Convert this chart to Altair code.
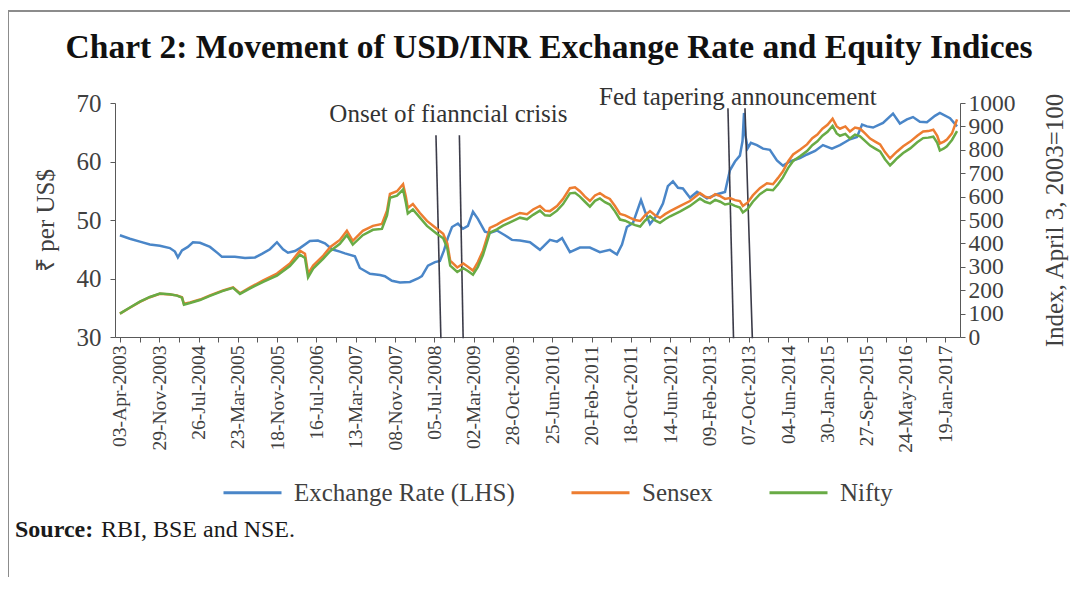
import json
import altair as alt
import pandas as pd

FONT = "Liberation Serif"

series_names = ["Exchange Rate (LHS)", "Sensex", "Nifty"]
series_colors = ["#4a86c8", "#ed7d31", "#68ab45"]

# Exchange rate (Rs per US$), LHS
fx_dates = [
    "2003-04-03", "2003-06-03", "2003-08-03", "2003-10-03", "2003-12-03",
    "2004-02-02", "2004-03-04", "2004-03-22", "2004-04-16", "2004-05-22", "2004-06-22", "2004-08-04", "2004-10-04", "2004-11-22", "2004-12-16",
    "2005-03-05", "2005-05-06", "2005-07-06", "2005-08-17", "2005-10-05", "2005-11-17", "2005-12-24",
    "2006-01-23", "2006-03-07", "2006-04-06", "2006-06-06", "2006-07-25", "2006-09-06", "2006-10-19", "2006-12-06",
    "2007-01-06", "2007-03-08", "2007-04-07", "2007-06-08", "2007-08-08", "2007-09-07", "2007-10-20", "2007-12-08",
    "2008-02-07", "2008-03-27", "2008-04-20", "2008-05-27", "2008-07-09", "2008-08-08", "2008-09-02", "2008-09-26", "2008-10-21", "2008-11-26", "2008-12-27",
    "2009-01-26", "2009-02-26", "2009-03-28", "2009-05-10", "2009-06-09", "2009-07-22", "2009-09-09", "2009-10-22", "2009-12-10",
    "2010-02-09", "2010-04-11", "2010-06-11", "2010-07-24", "2010-08-24", "2010-10-11", "2010-12-11",
    "2011-02-10", "2011-04-12", "2011-06-12", "2011-07-25", "2011-08-25", "2011-09-24", "2011-10-31", "2011-12-19",
    "2012-01-12", "2012-02-12", "2012-03-25", "2012-05-01", "2012-05-31", "2012-07-01", "2012-08-01", "2012-08-31", "2012-10-13", "2012-11-25",
    "2013-01-25", "2013-03-27", "2013-05-15", "2013-06-14", "2013-07-15", "2013-08-14", "2013-08-30", "2013-09-08", "2013-09-16", "2013-10-01", "2013-10-20", "2013-11-26",
    "2014-01-02", "2014-02-13", "2014-03-28", "2014-05-04", "2014-06-16", "2014-08-16", "2014-09-28", "2014-11-16",
    "2015-01-03", "2015-02-27", "2015-04-17", "2015-06-17", "2015-07-30", "2015-08-30", "2015-09-29", "2015-11-05",
    "2016-01-05", "2016-03-06", "2016-04-17", "2016-05-30", "2016-07-06", "2016-08-17", "2016-09-29", "2016-11-17", "2016-12-17",
    "2017-02-17", "2017-04-01",
]
fx_values = [
    47.4, 46.8, 46.3, 45.8, 45.6,
    45.2, 44.6, 43.6, 44.8, 45.4, 46.2, 46.1, 45.4, 44.3, 43.7,
    43.7, 43.5, 43.6, 44.2, 45.0, 46.2, 45.0,
    44.4, 44.7, 45.2, 46.4, 46.5, 46.0, 45.0, 44.6,
    44.3, 43.8, 41.8, 40.8, 40.6, 40.4, 39.6, 39.3,
    39.4, 40.0, 40.4, 42.2, 42.8, 43.0, 44.8, 47.0, 48.8, 49.4, 48.5,
    49.0, 51.4, 50.2, 48.0, 47.8, 48.2, 47.4, 46.6, 46.5,
    46.2, 44.9, 46.6, 46.3, 46.9, 44.5, 45.3,
    45.3, 44.5, 44.9, 44.1, 45.8, 48.8, 49.5, 53.4,
    51.5, 49.3, 50.8, 52.8, 55.8, 56.6, 55.5, 55.4, 53.8, 54.8,
    53.7, 54.4, 54.8, 58.5, 60.0, 61.0, 63.5, 68.3, 64.5, 62.3, 63.2, 62.8,
    62.2, 62.0, 60.2, 59.3, 60.0, 60.6, 61.2, 61.8,
    62.8, 62.2, 62.8, 63.8, 64.2, 66.3, 66.0, 65.8,
    66.6, 68.2, 66.5, 67.2, 67.6, 66.8, 66.7, 67.8, 68.3,
    67.4, 66.0,
]

# Equity indices (April 3, 2003 = 100), RHS
eq_dates = [
    "2003-04-03", "2003-06-03", "2003-08-03", "2003-10-03", "2003-12-03",
    "2004-02-02", "2004-03-16", "2004-04-16", "2004-04-28", "2004-06-04", "2004-08-04", "2004-10-04", "2004-12-23",
    "2005-02-22", "2005-04-05", "2005-06-06", "2005-08-25", "2005-11-17",
    "2006-02-04", "2006-04-06", "2006-05-07", "2006-05-26", "2006-06-26", "2006-08-27", "2006-10-09", "2006-12-06",
    "2007-01-18", "2007-02-23", "2007-04-25", "2007-06-26", "2007-08-20", "2007-09-20", "2007-10-08", "2007-11-20", "2007-12-27",
    "2008-01-13", "2008-01-25", "2008-02-25", "2008-04-08", "2008-05-21", "2008-07-22", "2008-08-28", "2008-09-22", "2008-10-10", "2008-11-22", "2008-12-29",
    "2009-01-26", "2009-02-26", "2009-03-28", "2009-04-28", "2009-05-29", "2009-06-09", "2009-07-22", "2009-08-28", "2009-10-10", "2009-12-10",
    "2010-01-22", "2010-02-28", "2010-04-11", "2010-05-12", "2010-06-11", "2010-07-24", "2010-08-30", "2010-10-11", "2010-11-11", "2010-12-11",
    "2011-01-11", "2011-02-10", "2011-03-13", "2011-04-12", "2011-05-13", "2011-06-12", "2011-07-13", "2011-08-13", "2011-09-13", "2011-10-14", "2011-11-13", "2011-12-14",
    "2012-01-12", "2012-02-12", "2012-03-14", "2012-04-13", "2012-05-14", "2012-06-14", "2012-08-15", "2012-10-13", "2012-12-13",
    "2013-01-13", "2013-02-13", "2013-03-16", "2013-04-16", "2013-05-15", "2013-06-14", "2013-07-15", "2013-08-14", "2013-09-01", "2013-10-01", "2013-11-01", "2013-12-14",
    "2014-01-26", "2014-03-04", "2014-04-04", "2014-05-04", "2014-06-04", "2014-07-05", "2014-08-16", "2014-09-28", "2014-10-30", "2014-11-30", "2014-12-31",
    "2015-01-31", "2015-03-03", "2015-03-28", "2015-04-17", "2015-05-20", "2015-06-17", "2015-07-18", "2015-08-18", "2015-09-17", "2015-10-18", "2015-11-18", "2015-12-18",
    "2016-01-17", "2016-02-17", "2016-03-12", "2016-03-31", "2016-05-07", "2016-06-19", "2016-08-01", "2016-09-06", "2016-10-07", "2016-11-07", "2016-12-01", "2016-12-17",
    "2017-01-11", "2017-01-29", "2017-03-01", "2017-04-01",
]
sensex_values = [
    100, 125, 150, 170, 185,
    182, 178, 170, 142, 148, 160, 178, 199,
    212, 187, 212, 242, 271,
    314, 369, 356, 271, 305, 348, 385, 415,
    454, 411, 454, 475, 483, 540, 611, 623, 653,
    600, 551, 568, 530, 496, 462, 441, 400, 326, 297, 314,
    300, 284, 320, 369, 440, 466, 480, 496, 510, 530,
    525, 545, 560, 540, 538, 560, 590, 636, 640, 623,
    600, 581, 605, 615, 600, 590, 560, 526, 520, 509, 500, 496,
    520, 538, 520, 509, 525, 538, 560, 581, 615,
    600, 594, 610, 602, 590, 594, 585, 581, 560, 575, 605, 636,
    657, 653, 680, 708, 750, 780, 800, 823, 850, 865, 890,
    907, 933, 900, 890, 900, 878, 895, 890, 870, 848, 835, 823,
    790, 763, 780, 793, 815, 835, 860, 878, 880, 886, 860, 827,
    835, 844, 870, 930,
]
nifty_values = [
    100, 126, 151, 171, 186,
    183, 177, 168, 138, 145, 158, 176, 197,
    210, 184, 208, 236, 262,
    303, 352, 338, 255, 292, 335, 368, 398,
    436, 395, 435, 458, 462, 520, 595, 604, 630,
    575, 528, 545, 510, 475, 440, 422, 380, 305, 278, 294,
    282, 266, 300, 350, 420, 446, 460, 476, 490, 510,
    503, 522, 540, 520, 518, 540, 568, 614, 616, 600,
    578, 557, 582, 592, 576, 566, 537, 502, 497, 487, 478, 472,
    497, 516, 498, 488, 503, 516, 537, 560, 592,
    578, 571, 586, 578, 566, 570, 560, 553, 532, 548, 578, 610,
    630, 627, 653, 682, 722, 752, 772, 795, 820, 836, 860,
    877, 902, 870, 860, 868, 848, 865, 858, 838, 818, 805, 793,
    760, 733, 750, 764, 786, 806, 832, 850, 852, 856, 830, 797,
    806, 815, 842, 880,
]

tick_label_dates = [
    "2003-04-03", "2003-11-29", "2004-07-26", "2005-03-23", "2005-11-18", "2006-07-16",
    "2007-03-13", "2007-11-08", "2008-07-05", "2009-03-02", "2009-10-28", "2010-06-25",
    "2011-02-20", "2011-10-18", "2012-06-14", "2013-02-09", "2013-10-07", "2014-06-04",
    "2015-01-30", "2015-09-27", "2016-05-24", "2017-01-19",
]

# Event markers (slanted vertical lines) and their labels
event_top_dates = ["2008-07-15", "2008-12-05", "2013-06-02", "2013-09-14"]
event_bottom_dates = ["2008-08-14", "2008-12-28", "2013-07-06", "2013-10-29"]
event_top_y = [64.5, 64.5, 69.1, 69.1]
event_bottom_y = [29.8, 29.8, 29.8, 29.8]
event_labels = ["Onset of fianncial crisis", "Fed tapering announcement"]
event_label_dates = ["2008-09-29", "2013-08-02"]
event_label_y = [68.1, 71.0]

title_text = "Chart 2: Movement of USD/INR Exchange Rate and Equity Indices"
y_left_title = "₹ per US$"
y_right_title = "Index, April 3, 2003=100"


def ms(d):
    return int(pd.Timestamp(d, tz="UTC").value // 10**6)


DAY = 86400000
x_domain = [ms("2003-03-04"), ms("2017-04-19")]
label_ms = [ms(d) for d in tick_label_dates]
minor_ms = [m + 120 * DAY for m in label_ms if m + 120 * DAY < x_domain[1]]
tick_values = sorted(label_ms + minor_ms)
label_strings = [pd.Timestamp(d).strftime("%d-%b-%Y") for d in tick_label_dates]
fmt = "utcFormat(datum.value, '%d-%b-%Y')"
label_expr = f"indexof({json.dumps(label_strings)}, {fmt}) >= 0 ? {fmt} : ''"

fx_df = pd.DataFrame({"date": fx_dates, "value": fx_values, "series": series_names[0]})
sensex_df = pd.DataFrame({"date": eq_dates, "value": sensex_values, "series": series_names[1]})
nifty_df = pd.DataFrame({"date": eq_dates, "value": nifty_values, "series": series_names[2]})
events_df = pd.DataFrame({"date": event_top_dates, "d2": event_bottom_dates,
                          "y1": event_top_y, "y2": event_bottom_y})
labels_df = pd.DataFrame({"date": event_label_dates, "y": event_label_y, "text": event_labels})
one = pd.DataFrame({"a": [0]})

AX = "#595959"
TXT = "#404040"

x_scale = alt.Scale(type="utc", domain=x_domain, nice=False)
x_axis = alt.Axis(values=tick_values, labelExpr=label_expr, labelAngle=270, labelAlign="right",
                  labelBaseline="middle", labelFont=FONT, labelFontSize=19.5, labelColor=TXT,
                  labelPadding=3, tickSize=5, tickColor=AX, domainColor=AX, title=None,
                  labelOverlap=False, labelFlush=False, grid=False, orient="bottom")
yl_scale = alt.Scale(domain=[30, 70], nice=False, zero=False)
yr_scale = alt.Scale(domain=[0, 1000], nice=False, zero=False)
left_axis = alt.Axis(orient="left", values=[30, 40, 50, 60, 70], title=y_left_title,
                     titleFont=FONT, titleFontSize=25, titleFontWeight="normal", titleColor=TXT,
                     titlePadding=18, labelFont=FONT, labelFontSize=25, labelColor=TXT,
                     labelPadding=9, tickSize=5, tickColor=AX, domainColor=AX, grid=False,
                     labelOverlap=False)
right_axis = alt.Axis(orient="right", values=list(range(0, 1001, 100)), format="d",
                      title=y_right_title,
                      titleFont=FONT, titleFontSize=25, titleFontWeight="normal", titleColor=TXT,
                      titleAngle=270, titleBaseline="top", titlePadding=27,
                      labelFont=FONT, labelFontSize=23.5, labelColor=TXT, labelPadding=3,
                      tickSize=5, tickColor=AX, domainColor=AX, grid=False, labelOverlap=False)
color_scale = alt.Scale(domain=series_names, range=series_colors)
legend = alt.Legend(orient="none", legendX=107, legendY=359, direction="horizontal", title=None,
                    symbolType="stroke", symbolSize=3364, symbolStrokeWidth=3,
                    labelFont=FONT, labelFontSize=25, labelColor=TXT, labelLimit=400,
                    columnPadding=50, labelOffset=11)

border_v = alt.Chart(one).mark_rule(color="#8c8c8c", strokeWidth=2).encode(
    x=alt.value(-107), y=alt.value(-92), y2=alt.value(480))
border_h = alt.Chart(one).mark_rule(color="#8c8c8c", strokeWidth=2).encode(
    x=alt.value(-107), x2=alt.value(955), y=alt.value(-92))
title_mark = alt.Chart(one).mark_text(text=title_text, font=FONT, fontSize=33.5, fontWeight="bold",
                                      color="#111111", align="center", baseline="middle").encode(
    x=alt.value(434), y=alt.value(-55))

X = alt.X("date:T", scale=x_scale, axis=x_axis)

fx_line = alt.Chart(fx_df).mark_line(strokeWidth=2.5).encode(
    x=X,
    y=alt.Y("value:Q", scale=yl_scale, axis=left_axis),
    color=alt.Color("series:N", scale=color_scale, legend=legend),
)
event_rules = alt.Chart(events_df).mark_rule(color="#3b3b48", strokeWidth=1.6).encode(
    x=X, x2="d2:T",
    y=alt.Y("y1:Q", scale=yl_scale, axis=None), y2="y2:Q",
)
event_text = alt.Chart(labels_df).mark_text(font=FONT, fontSize=25, color="#333333",
                                            align="center", baseline="middle").encode(
    x=X,
    y=alt.Y("y:Q", scale=yl_scale, axis=None),
    text="text:N",
)
src_bold = alt.Chart(one).mark_text(text="Source:", font=FONT, fontSize=24, fontWeight="bold",
                                    color="#1a1a1a", align="left", baseline="middle").encode(
    x=alt.value(-100), y=alt.value(427))
src_rest = alt.Chart(one).mark_text(text="RBI, BSE and NSE.", font=FONT, fontSize=24,
                                    color="#1a1a1a", align="left", baseline="middle").encode(
    x=alt.value(-14), y=alt.value(427))

sensex_line = alt.Chart(sensex_df).mark_line(strokeWidth=2.5).encode(
    x=X,
    y=alt.Y("value:Q", scale=yr_scale, axis=right_axis),
    color=alt.Color("series:N", scale=color_scale, legend=legend),
)
nifty_line = alt.Chart(nifty_df).mark_line(strokeWidth=2.5).encode(
    x=X,
    y=alt.Y("value:Q", scale=yr_scale, axis=None),
    color=alt.Color("series:N", scale=color_scale, legend=legend),
)

chart = alt.layer(
    border_v, border_h, title_mark, fx_line, event_rules, event_text,
    src_bold, src_rest, sensex_line, nifty_line,
).resolve_scale(y="independent").properties(
    width=845, height=234,
    autosize=alt.AutoSizeParams(type="none"),
    padding={"left": 107, "top": 95, "right": 110, "bottom": 240},
).configure_view(stroke=None)

chart.save("out.html", embed_options={"renderer": "svg", "actions": False})
